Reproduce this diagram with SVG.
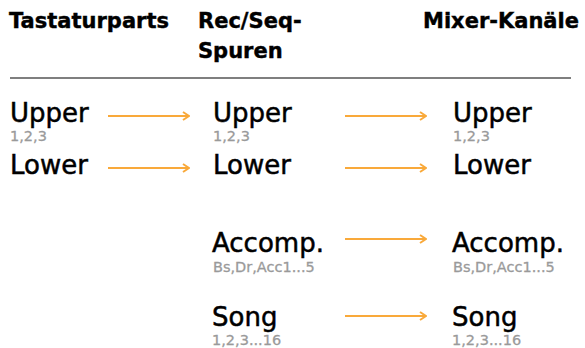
<svg xmlns="http://www.w3.org/2000/svg" width="585" height="348" viewBox="0 0 585 348">
<defs>
<style>
.h{font-family:"DejaVu Sans",sans-serif;font-weight:bold;font-size:21px;fill:#000;stroke:#000;stroke-width:0.4}
.n{font-family:"DejaVu Sans",sans-serif;font-size:26px;fill:#000;stroke:#000;stroke-width:0.5}
.s{font-family:"DejaVu Sans",sans-serif;font-size:14.5px;fill:#9a9a9a;stroke:#9a9a9a;stroke-width:0.3}
.a{stroke:#f9a93a;stroke-width:2;fill:none}
</style>
<marker id="arr" viewBox="0 0 10 10" refX="9" refY="5" markerWidth="10" markerHeight="10" markerUnits="userSpaceOnUse" orient="auto">
<path d="M3,1 L9,5 L3,9" fill="none" stroke="#f9a93a" stroke-width="2"/>
</marker>
</defs>
<rect width="585" height="348" fill="#fff"/>
<g id="header">
<text class="h" x="9" y="28">Tastaturparts</text>
<text class="h" x="198" y="28">Rec/Seq-</text>
<text class="h" x="198" y="58">Spuren</text>
<text class="h" x="423" y="28">Mixer-Kanäle</text>
<line x1="10" y1="78" x2="571" y2="78" stroke="#555" stroke-width="1.5"/>
</g>
<g id="kb-upper"><text class="n" x="10" y="122">Upper</text><text class="s" x="10" y="141">1,2,3</text></g>
<g id="kb-lower"><text class="n" x="10" y="174">Lower</text></g>
<g id="rec-upper"><text class="n" x="213" y="122">Upper</text><text class="s" x="213" y="141">1,2,3</text></g>
<g id="rec-lower"><text class="n" x="213" y="174">Lower</text></g>
<g id="rec-accomp"><text class="n" x="212" y="252">Accomp.</text><text class="s" x="213" y="272">Bs,Dr,Acc1...5</text></g>
<g id="rec-song"><text class="n" x="212" y="326">Song</text><text class="s" x="212" y="345">1,2,3...16</text></g>
<g id="mix-upper"><text class="n" x="453" y="122">Upper</text><text class="s" x="453" y="141">1,2,3</text></g>
<g id="mix-lower"><text class="n" x="453" y="174">Lower</text></g>
<g id="mix-accomp"><text class="n" x="452" y="252">Accomp.</text><text class="s" x="453" y="272">Bs,Dr,Acc1...5</text></g>
<g id="mix-song"><text class="n" x="452" y="326">Song</text><text class="s" x="452" y="345">1,2,3...16</text></g>
<g id="connectors" class="a">
<line class="a" x1="108" y1="116" x2="189" y2="116" marker-end="url(#arr)"/>
<line class="a" x1="108" y1="168" x2="189" y2="168" marker-end="url(#arr)"/>
<line class="a" x1="345" y1="116" x2="426" y2="116" marker-end="url(#arr)"/>
<line class="a" x1="345" y1="168" x2="426" y2="168" marker-end="url(#arr)"/>
<line class="a" x1="345" y1="239" x2="426" y2="239" marker-end="url(#arr)"/>
<line class="a" x1="345" y1="316" x2="426" y2="316" marker-end="url(#arr)"/>
</g>
</svg>
